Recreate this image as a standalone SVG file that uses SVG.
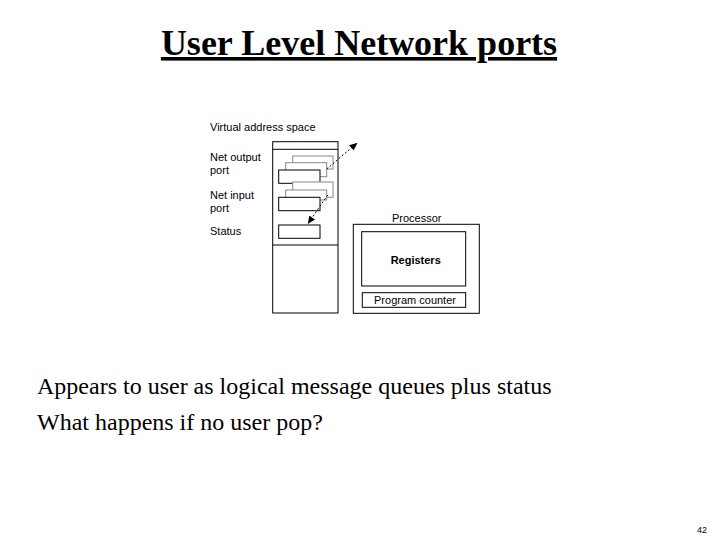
<svg xmlns="http://www.w3.org/2000/svg" width="720" height="540" viewBox="0 0 720 540">
<style>
.b{fill:#fff;stroke:#000;stroke-width:1}
.g{fill:#fff;stroke:#888;stroke-width:1}
.s{font-family:"Liberation Sans",Arial,sans-serif;font-size:11px;fill:#000}
.t{font-family:"Liberation Serif","Times New Roman",serif;fill:#000}
</style>
<defs><marker id="ah" markerWidth="8" markerHeight="8" refX="7" refY="4" orient="auto" markerUnits="userSpaceOnUse"><path d="M0,0.5 L8,4 L0,7.5 Z" fill="#000"/></marker></defs>
<rect width="720" height="540" fill="#fff"/>
<text class="t" x="359" y="55" font-size="36" font-weight="bold" text-anchor="middle" text-decoration="underline">User Level Network ports</text>
<g id="memory">
<rect class="b" x="272.7" y="141.7" width="65.3" height="171.3"/>
<line x1="272.7" y1="149.3" x2="338" y2="149.3" stroke="#000"/>
<line x1="272.7" y1="245" x2="338" y2="245" stroke="#000"/>
<text class="s" x="210" y="131">Virtual address space</text>
</g>
<g id="outport">
<rect class="g" x="292.7" y="156" width="40.3" height="13"/>
<rect class="g" x="285.7" y="162.7" width="41" height="14"/>
<rect class="b" x="278.7" y="170" width="41.3" height="13.3"/>
<text class="s" x="210" y="161">Net output</text><text class="s" x="210" y="174">port</text>
</g>
<g id="inport">
<rect class="g" x="292.7" y="182" width="40.3" height="15.3"/>
<rect class="g" x="285.7" y="190" width="41" height="10"/>
<rect class="b" x="278.7" y="197.3" width="41.3" height="13.4"/>
<text class="s" x="210" y="199">Net input</text><text class="s" x="210" y="212">port</text>
</g>
<g id="status">
<rect class="b" x="278.7" y="225" width="41.3" height="13.3"/>
<text class="s" x="210" y="235">Status</text>
</g>
<g id="processor">
<text class="s" x="392" y="222">Processor</text>
<rect class="b" x="353.3" y="224.3" width="126" height="89"/>
<rect class="b" x="361.7" y="231.7" width="104" height="54.3"/>
<text class="s" x="415.7" y="264" text-anchor="middle" font-weight="bold">Registers</text>
<rect class="b" x="362.3" y="292.7" width="103.4" height="14.6"/>
<text class="s" x="415" y="304" text-anchor="middle">Program counter</text>
</g>
<g id="connectors" stroke="#000" stroke-dasharray="2,2" fill="none">
<line x1="326.7" y1="169" x2="356.7" y2="143.3" marker-end="url(#ah)"/>
<line x1="327.7" y1="195" x2="308.3" y2="223.3" marker-end="url(#ah)"/>
</g>
<text class="t" x="37" y="394" font-size="24">Appears to user as logical message queues plus status</text>
<text class="t" x="37" y="430" font-size="24">What happens if no user pop?</text>
<text x="697" y="533" font-family="Liberation Sans,Arial,sans-serif" font-size="9">42</text>
</svg>
